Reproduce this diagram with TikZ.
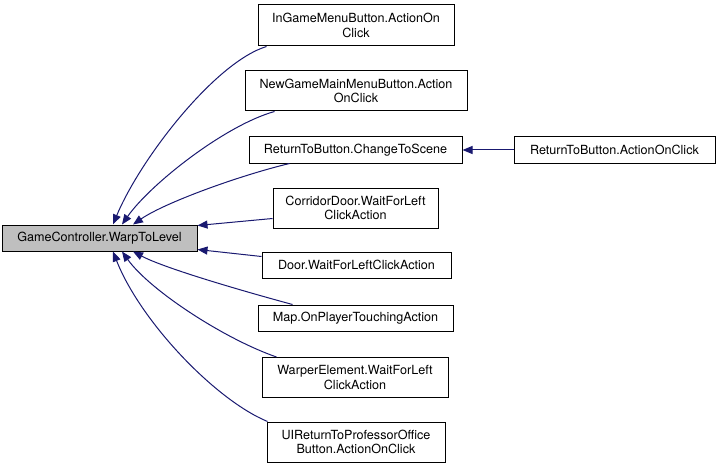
\documentclass[tikz,border=0pt]{standalone}
\usepackage{fontspec}
\setmainfont{TeX Gyre Heros}
\usetikzlibrary{arrows.meta,calc}

\definecolor{edgeblue}{RGB}{25,25,112}
\definecolor{curgray}{RGB}{191,191,191}

\tikzset{
  fn/.style={draw=black, fill=white, line width=1pt, align=center,
    inner sep=0pt, minimum height=26pt,
    font=\fontsize{12.6}{14.5}\selectfont},
  cur/.style={fn, fill=curgray},
  call/.style={draw=edgeblue, line width=1pt,
    -{Triangle[length=10pt,width=8pt]}}
}

\begin{document}
\begin{tikzpicture}[x=1pt, y=-1pt]
        \useasboundingbox (0,0) rectangle (720,468);

        % Function that is called
        \node[cur, minimum width=195pt] (main) at (99.5,238) {GameController.WarpToLevel};

        % Callers
        \node[fn, minimum width=196pt, minimum height=41pt] (ingame) at (356,25.5) {InGameMenuButton.ActionOn\\Click};
        \node[fn, minimum width=222pt, minimum height=40pt] (newgame) at (356,91) {NewGameMainMenuButton.Action\\OnClick};
        \node[fn, minimum width=213pt] (scene) at (355.5,150) {ReturnToButton.ChangeToScene};
        \node[fn, minimum width=201pt] (rtbclick) at (614.5,150) {ReturnToButton.ActionOnClick};
        \node[fn, minimum width=165pt, minimum height=40pt] (corridor) at (355.5,208) {CorridorDoor.WaitForLeft\\ClickAction};
        \node[fn, minimum width=189pt] (door) at (356.5,265) {Door.WaitForLeftClickAction};
        \node[fn, minimum width=195pt] (map) at (355.5,318) {Map.OnPlayerTouchingAction};
        \node[fn, minimum width=186pt, minimum height=40pt] (warper) at (355,377.5) {WarperElement.WaitForLeft\\ClickAction};
        \node[fn, minimum width=178pt, minimum height=40pt] (uireturn) at (356,442) {UIReturnToProfessorOffice\\Button.ActionOnClick};

        % Calls from above
        \draw[call] ($(ingame.south west)+(9,0)$) .. controls +(-52,16) and +(27,-65) .. ($(main.north)+(13.5,0)$);
        \draw[call] ($(newgame.south west)+(30,0)$) .. controls +(-50,14) and +(28,-40) .. ($(main.north)+(22.5,0)$);
        \draw[call] ($(scene.south west)+(41,0)$) .. controls +(-50,12) and +(32,-22) .. ($(main.north)+(33.5,0)$);
        \draw[call] ($(corridor.south west)+(0,-10)$) -- ($(main.north east)+(0,1)$);
        \draw[call] (rtbclick.west) -- (scene.east);

        % Calls from below
        \draw[call] ($(door.north west)+(0,5)$) -- ($(main.south east)+(0,-2)$);
        \draw[call] ($(map.north west)+(35,0)$) .. controls +(-48,-13) and +(32,17) .. ($(main.south)+(33.5,0)$);
        \draw[call] ($(warper.north west)+(15,0)$) .. controls +(-52,-18) and +(28,39) .. ($(main.south)+(22.5,0)$);
        \draw[call] ($(uireturn.north west)+(1,0)$) .. controls +(-53,-22) and +(27,69) .. ($(main.south)+(13.5,0)$);
\end{tikzpicture}
\end{document}
